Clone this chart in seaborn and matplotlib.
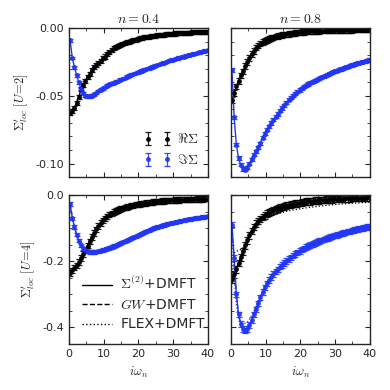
import numpy as np
import pandas as pd
import matplotlib
matplotlib.use("Agg")
import matplotlib.pyplot as plt
from matplotlib.lines import Line2D
from matplotlib.ticker import MultipleLocator, FormatStrFormatter
import seaborn as sns

# Matsubara frequencies (beta = 10)
w = [0.31, 0.94, 1.57, 2.20, 2.83, 3.46, 4.08, 4.71, 5.34, 5.97, 6.60, 7.23, 7.85, 8.48, 9.11, 9.74,
     10.37, 11.00, 11.62, 12.25, 12.88, 13.51, 14.14, 14.77, 15.39, 16.02, 16.65, 17.28, 17.91, 18.54, 19.16, 19.79,
     20.42, 21.05, 21.68, 22.31, 22.93, 23.56, 24.19, 24.82, 25.45, 26.08, 26.70, 27.33, 27.96, 28.59, 29.22, 29.85,
     30.47, 31.10, 31.73, 32.36, 32.99, 33.62, 34.24, 34.87, 35.50, 36.13, 36.76, 37.38, 38.01, 38.64, 39.27, 39.90]

# n=0.4, U=2
re_04_u2 = [-0.063, -0.061, -0.059, -0.055, -0.051, -0.045, -0.042, -0.039, -0.036, -0.034, -0.031, -0.029, -0.027, -0.026, -0.024, -0.022,
            -0.021, -0.019, -0.018, -0.016, -0.015, -0.014, -0.013, -0.0125, -0.012, -0.011, -0.0105, -0.010, -0.0095, -0.009, -0.0085, -0.008,
            -0.0076, -0.0072, -0.0069, -0.0066, -0.0063, -0.006, -0.0058, -0.0056, -0.0054, -0.0052, -0.005, -0.0048, -0.0046, -0.0044, -0.0043, -0.0042,
            -0.004, -0.0039, -0.0038, -0.0037, -0.0036, -0.0035, -0.0034, -0.0033, -0.0032, -0.0031, -0.003, -0.0029, -0.0028, -0.0027, -0.0027, -0.0026]
im_04_u2 = [-0.009, -0.022, -0.029, -0.035, -0.040, -0.045, -0.048, -0.050, -0.0505, -0.0505, -0.050, -0.049, -0.048, -0.0465, -0.0455, -0.0445,
            -0.0435, -0.0425, -0.0415, -0.0408, -0.0405, -0.0397, -0.039, -0.0382, -0.0375, -0.0368, -0.036, -0.0352, -0.0345, -0.0338, -0.0332, -0.0326,
            -0.032, -0.0314, -0.0308, -0.0302, -0.0296, -0.029, -0.0284, -0.0278, -0.0272, -0.0266, -0.026, -0.0255, -0.025, -0.0244, -0.0239, -0.0234,
            -0.0229, -0.0224, -0.0219, -0.0214, -0.021, -0.0205, -0.0200, -0.0196, -0.0192, -0.0188, -0.0184, -0.0180, -0.0176, -0.0172, -0.0168, -0.0165]

# n=0.8, U=2
re_08_u2 = [-0.053, -0.048, -0.043, -0.039, -0.035, -0.032, -0.028, -0.025, -0.022, -0.019, -0.017, -0.0145, -0.013, -0.0115, -0.0103, -0.0094,
            -0.0087, -0.008, -0.0074, -0.0068, -0.0063, -0.0059, -0.0055, -0.0052, -0.0049, -0.0046, -0.0043, -0.004, -0.0038, -0.0035, -0.0033, -0.0031,
            -0.003, -0.0028, -0.0027, -0.0026, -0.0025, -0.0024, -0.0023, -0.0022, -0.0021, -0.0020, -0.0019, -0.0019, -0.0018, -0.0017, -0.0017, -0.0016,
            -0.0016, -0.0015, -0.0015, -0.0014, -0.0014, -0.0013, -0.0013, -0.0013, -0.0012, -0.0012, -0.0011, -0.0011, -0.0011, -0.001, -0.001, -0.001]
im_08_u2 = [-0.031, -0.066, -0.086, -0.096, -0.101, -0.104, -0.1045, -0.103, -0.100, -0.097, -0.0935, -0.091, -0.088, -0.085, -0.081, -0.078,
            -0.075, -0.0725, -0.070, -0.0676, -0.0655, -0.0635, -0.061, -0.059, -0.057, -0.055, -0.053, -0.0515, -0.050, -0.0485, -0.047, -0.0458,
            -0.0446, -0.0434, -0.0423, -0.0413, -0.0404, -0.0396, -0.0388, -0.038, -0.0372, -0.0364, -0.0356, -0.0348, -0.034, -0.0333, -0.0326, -0.032,
            -0.0314, -0.0308, -0.0302, -0.0296, -0.029, -0.0284, -0.0278, -0.0273, -0.0268, -0.0263, -0.0258, -0.0253, -0.0248, -0.0244, -0.024, -0.0236]

# n=0.4, U=4
re_04_u4 = [-0.236, -0.228, -0.220, -0.212, -0.202, -0.190, -0.178, -0.166, -0.153, -0.140, -0.127, -0.115, -0.104, -0.094, -0.085, -0.077,
            -0.070, -0.064, -0.059, -0.055, -0.051, -0.048, -0.045, -0.042, -0.040, -0.038, -0.036, -0.034, -0.032, -0.031, -0.029, -0.028,
            -0.027, -0.026, -0.025, -0.024, -0.023, -0.022, -0.021, -0.0205, -0.020, -0.019, -0.0185, -0.018, -0.017, -0.0167, -0.0163, -0.016,
            -0.0155, -0.015, -0.0147, -0.0144, -0.014, -0.0137, -0.0134, -0.0131, -0.0128, -0.0126, -0.0124, -0.0122, -0.012, -0.0118, -0.0116, -0.0114]
im_04_u4 = [-0.027, -0.070, -0.097, -0.120, -0.138, -0.152, -0.161, -0.167, -0.170, -0.172, -0.172, -0.172, -0.171, -0.170, -0.168, -0.166,
            -0.164, -0.162, -0.160, -0.157, -0.154, -0.152, -0.149, -0.146, -0.143, -0.140, -0.137, -0.134, -0.131, -0.128, -0.125, -0.122,
            -0.119, -0.116, -0.113, -0.110, -0.107, -0.104, -0.101, -0.099, -0.097, -0.095, -0.093, -0.091, -0.089, -0.087, -0.086, -0.084,
            -0.083, -0.081, -0.080, -0.078, -0.077, -0.075, -0.074, -0.073, -0.072, -0.070, -0.069, -0.068, -0.067, -0.066, -0.065, -0.064]

# n=0.8, U=4
re_08_u4 = [-0.255, -0.240, -0.225, -0.205, -0.188, -0.170, -0.152, -0.137, -0.122, -0.109, -0.097, -0.087, -0.079, -0.072, -0.066, -0.061,
            -0.056, -0.052, -0.049, -0.046, -0.043, -0.040, -0.038, -0.036, -0.034, -0.032, -0.030, -0.029, -0.027, -0.026, -0.025, -0.024,
            -0.022, -0.021, -0.020, -0.0195, -0.019, -0.018, -0.0175, -0.017, -0.016, -0.0155, -0.015, -0.0145, -0.014, -0.0135, -0.013, -0.0125,
            -0.012, -0.0117, -0.0113, -0.011, -0.0105, -0.010, -0.0097, -0.0094, -0.0091, -0.0088, -0.0085, -0.0082, -0.008, -0.0077, -0.0075, -0.0073]
im_08_u4 = [-0.09, -0.19, -0.30, -0.36, -0.39, -0.405, -0.41, -0.405, -0.393, -0.378, -0.36, -0.345, -0.327, -0.309, -0.293, -0.279,
            -0.267, -0.257, -0.248, -0.239, -0.231, -0.224, -0.217, -0.211, -0.205, -0.199, -0.193, -0.188, -0.183, -0.178, -0.173, -0.169,
            -0.165, -0.161, -0.157, -0.154, -0.151, -0.148, -0.145, -0.142, -0.139, -0.137, -0.134, -0.132, -0.130, -0.127, -0.125, -0.123,
            -0.121, -0.119, -0.117, -0.115, -0.113, -0.111, -0.110, -0.108, -0.106, -0.105, -0.103, -0.101, -0.100, -0.098, -0.097, -0.096]

# GW / FLEX curves for n=0.8, U=4 on a coarser grid
w_line = [0.31, 0.94, 1.57, 2.20, 2.83, 3.46, 4.71, 5.97, 7.23, 8.48, 9.74, 11.62, 13.51, 16.02, 19.16, 22.31, 26.08, 29.85, 34.87, 39.90]
gw_re_08 = [-0.255, -0.240, -0.225, -0.205, -0.188, -0.170, -0.138, -0.111, -0.090, -0.076, -0.066, -0.055, -0.046, -0.038, -0.031, -0.026, -0.022, -0.018, -0.015, -0.013]
gw_im_08 = [-0.09, -0.20, -0.30, -0.36, -0.39, -0.405, -0.405, -0.378, -0.345, -0.309, -0.279, -0.248, -0.224, -0.199, -0.173, -0.154, -0.137, -0.123, -0.108, -0.096]
flex_re_08 = [-0.255, -0.175, -0.170, -0.168, -0.165, -0.160, -0.140, -0.115, -0.095, -0.082, -0.073, -0.064, -0.057, -0.049, -0.043, -0.038, -0.033, -0.029, -0.025, -0.022]
flex_im_08 = [-0.10, -0.25, -0.33, -0.37, -0.385, -0.39, -0.385, -0.365, -0.335, -0.305, -0.28, -0.25, -0.226, -0.201, -0.176, -0.156, -0.139, -0.125, -0.110, -0.098]

# error bar half-widths per panel
err = {"re_04_u2": 0.0015, "im_04_u2": 0.001, "re_08_u2": 0.002, "im_08_u2": 0.0012,
       "re_04_u4": 0.008, "im_04_u4": 0.005, "re_08_u4": 0.01, "im_08_u4": 0.008}

sns.set_style("ticks")
plt.rcParams["font.family"] = ["DejaVu Sans"]
plt.rcParams["mathtext.fontset"] = "cm"
plt.rcParams["xtick.direction"] = "in"
plt.rcParams["ytick.direction"] = "in"
plt.rcParams["xtick.top"] = True
plt.rcParams["ytick.right"] = True
plt.rcParams["xtick.major.size"] = 3.5
plt.rcParams["ytick.major.size"] = 3.5
plt.rcParams["xtick.minor.size"] = 2
plt.rcParams["ytick.minor.size"] = 2
plt.rcParams["axes.linewidth"] = 1.0

BLUE = "#2236f5"
BLACK = "black"

fig = plt.figure(figsize=(3.9, 3.9), dpi=100)
W, H = 0.356, 0.382
ax_tl = fig.add_axes([0.177, 0.546, W, H])
ax_tr = fig.add_axes([0.592, 0.546, W, H])
ax_bl = fig.add_axes([0.177, 0.118, W, H])
ax_br = fig.add_axes([0.592, 0.118, W, H])


def pts(ax, y, e, color):
    sns.lineplot(x=w, y=y, ax=ax, color=color, lw=1.0, legend=False)
    h = ax.errorbar(w, y, yerr=e, fmt="o", ms=2.5, color=color, ecolor=color,
                    elinewidth=0.9, capsize=2.0, capthick=0.9, alpha=0.9)
    return h


h_re = pts(ax_tl, re_04_u2, err["re_04_u2"], BLACK)
h_im = pts(ax_tl, im_04_u2, err["im_04_u2"], BLUE)
pts(ax_tr, re_08_u2, err["re_08_u2"], BLACK)
pts(ax_tr, im_08_u2, err["im_08_u2"], BLUE)

# bottom left: all three methods sit on the data
for ls in ["--", ":"]:
    sns.lineplot(x=w, y=re_04_u4, ax=ax_bl, color=BLACK, lw=0.9, linestyle=ls, legend=False)
    sns.lineplot(x=w, y=im_04_u4, ax=ax_bl, color=BLUE, lw=0.9, linestyle=ls, legend=False)
pts(ax_bl, re_04_u4, err["re_04_u4"], BLACK)
pts(ax_bl, im_04_u4, err["im_04_u4"], BLUE)

sns.lineplot(x=w_line, y=gw_re_08, ax=ax_br, color=BLACK, lw=0.9, linestyle="--", legend=False)
sns.lineplot(x=w_line, y=gw_im_08, ax=ax_br, color=BLUE, lw=0.9, linestyle="--", legend=False)
sns.lineplot(x=w_line, y=flex_re_08, ax=ax_br, color=BLACK, lw=0.9, linestyle=":", legend=False)
sns.lineplot(x=w_line, y=flex_im_08, ax=ax_br, color=BLUE, lw=0.9, linestyle=":", legend=False)
pts(ax_br, re_08_u4, err["re_08_u4"], BLACK)
pts(ax_br, im_08_u4, err["im_08_u4"], BLUE)

for ax in [ax_tl, ax_tr]:
    ax.set_ylim(-0.11, 0.0)
    ax.yaxis.set_major_locator(MultipleLocator(0.05))
    ax.yaxis.set_minor_locator(MultipleLocator(0.01))
    ax.yaxis.set_major_formatter(FormatStrFormatter("%.2f"))
for ax in [ax_bl, ax_br]:
    ax.set_ylim(-0.45, 0.0)
    ax.yaxis.set_major_locator(MultipleLocator(0.2))
    ax.yaxis.set_minor_locator(MultipleLocator(0.05))
    ax.yaxis.set_major_formatter(FormatStrFormatter("%.1f"))
for ax in [ax_tl, ax_tr, ax_bl, ax_br]:
    ax.set_xlim(0, 40)
    ax.xaxis.set_major_locator(MultipleLocator(10))
    ax.xaxis.set_minor_locator(MultipleLocator(5))
    ax.tick_params(which="both", labelsize=8, top=True, right=True, direction="in")
    ax.set_xlabel("")
    ax.set_ylabel("")
    for s in ax.spines.values():
        s.set_visible(True)
        s.set_linewidth(1.0)

for ax in [ax_tl, ax_tr]:
    ax.tick_params(labelbottom=False)
for ax in [ax_tr, ax_br]:
    ax.tick_params(labelleft=False)

ax_tl.set_title(r"$n=0.4$", fontsize=10, pad=4)
ax_tr.set_title(r"$n=0.8$", fontsize=10, pad=4)
ax_tl.set_ylabel(r"$\Sigma^{\prime}_{loc}\ [U\!=\!2]$", fontsize=9)
ax_bl.set_ylabel(r"$\Sigma^{\prime}_{loc}\ [U\!=\!4]$", fontsize=9)
ax_bl.set_xlabel(r"$i\omega_n$", fontsize=9)
ax_br.set_xlabel(r"$i\omega_n$", fontsize=9)

ax_tl.legend([h_re, h_im], [r"$\Re\Sigma$", r"$\Im\Sigma$"], loc="lower right", numpoints=2,
             frameon=False, fontsize=10, handlelength=2.0, borderaxespad=0.3, handletextpad=0.4)

lines = [Line2D([], [], color=BLACK, lw=1.0, ls="-"),
         Line2D([], [], color=BLACK, lw=1.0, ls="--"),
         Line2D([], [], color=BLACK, lw=1.0, ls=":")]
ax_bl.legend(lines, [r"$\Sigma^{(2)}$+DMFT", r"$GW$+DMFT", "FLEX+DMFT"], loc="lower left",
             frameon=False, fontsize=10, handlelength=2.2, borderaxespad=0.5, handletextpad=0.6,
             labelspacing=0.4)

fig.savefig("out.png", dpi=100)
